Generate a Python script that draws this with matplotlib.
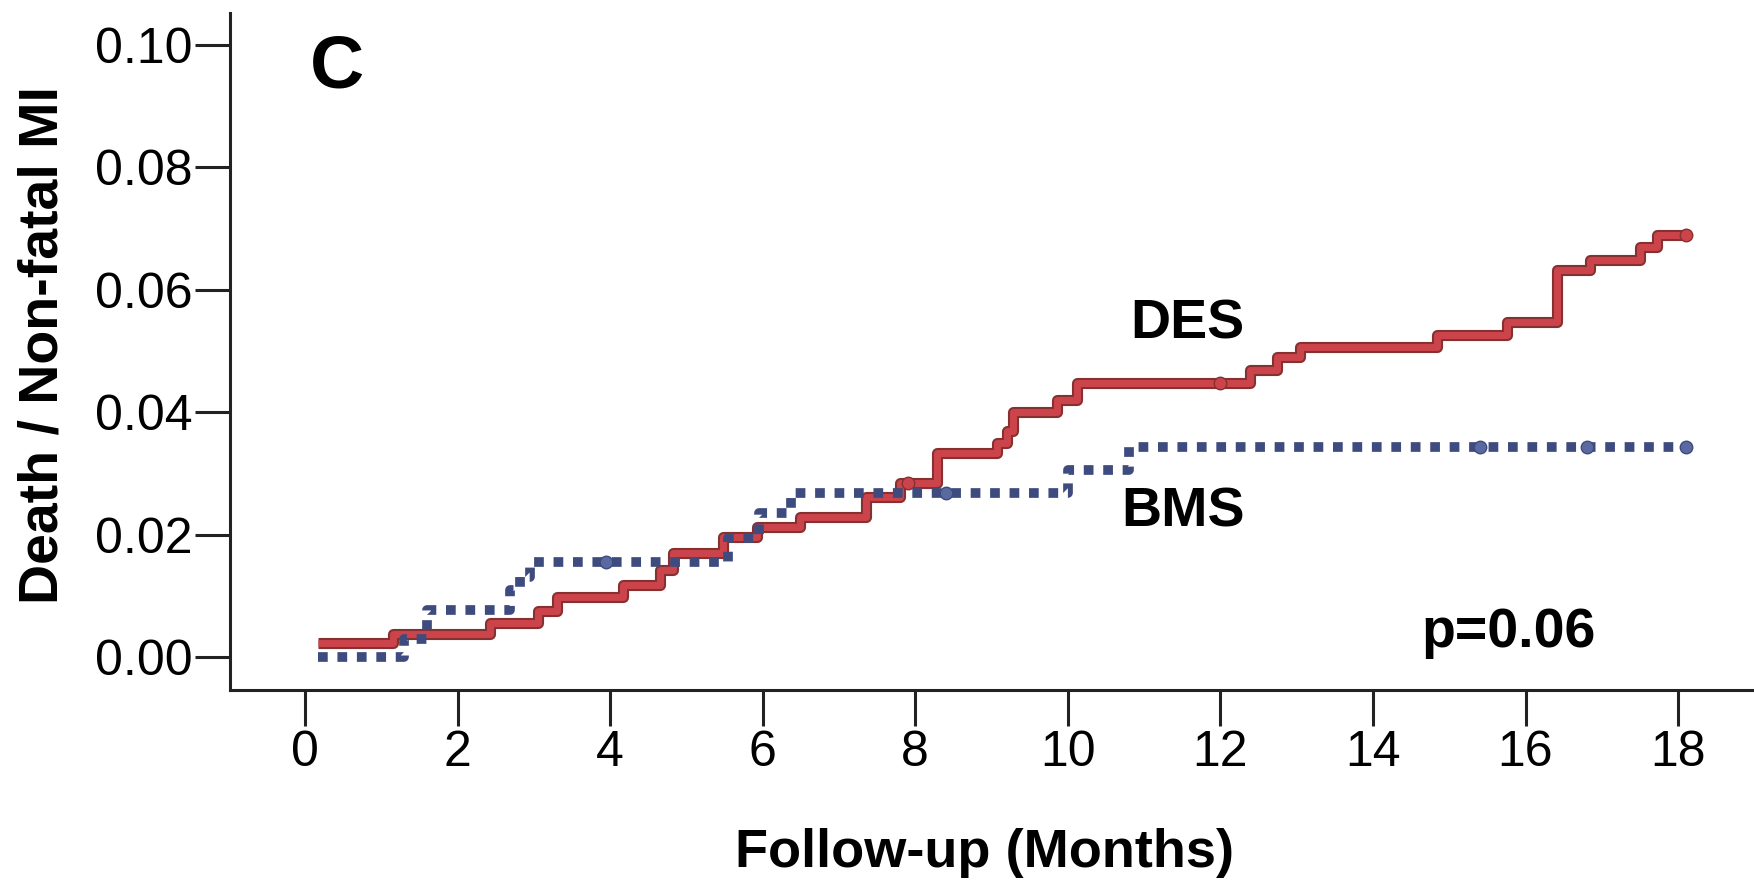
import numpy as np
import matplotlib
matplotlib.use('Agg')
import matplotlib.pyplot as plt
import matplotlib.patheffects as pe

# Kaplan-Meier style cumulative event curves
des_t = [0.17, 1.15, 2.43, 3.05, 3.30, 4.17, 4.65, 4.83, 5.48, 5.92, 6.49,
         7.36, 7.80, 8.28, 9.07, 9.20, 9.28, 9.86, 10.12, 12.39, 12.74,
         13.04, 14.84, 15.76, 16.41, 16.85, 17.50, 17.72, 18.10]
des_v = [0.0023, 0.0038, 0.0055, 0.0075, 0.0098, 0.0118, 0.0142, 0.0170,
         0.0196, 0.0213, 0.0229, 0.0262, 0.0284, 0.0333, 0.0350, 0.0370,
         0.0400, 0.0420, 0.0447, 0.0469, 0.0490, 0.0507, 0.0526, 0.0547,
         0.0632, 0.0649, 0.0670, 0.0690, 0.0690]

bms_t = [0.17, 1.30, 1.60, 2.69, 2.82, 2.95, 5.55, 5.95, 6.37, 10.00,
         10.80, 18.15]
bms_v = [0.0, 0.0030, 0.0077, 0.0110, 0.0130, 0.0155, 0.0195, 0.0235,
         0.0268, 0.0306, 0.0343, 0.0343]

# censor marks
des_cens_t = [7.9, 12.0, 18.1]
des_cens_v = [0.0284, 0.0447, 0.0690]
bms_cens_t = [3.95, 8.4, 15.4, 16.8, 18.1]
bms_cens_v = [0.0155, 0.0268, 0.0343, 0.0343, 0.0343]

xticks = np.arange(0, 19, 2)
yticks = [0.00, 0.02, 0.04, 0.06, 0.08, 0.10]

plt.rcParams['font.family'] = ['Liberation Sans', 'DejaVu Sans']

# ============= PLOTTING ==============
fig = plt.figure(figsize=(17.54, 8.8), dpi=100)
ax = fig.add_axes([0.1311, 0.2159, 0.8689, 0.7693])

red = '#cc444b'
blue = '#3e4b7e'

# DES: solid red with darker edge
ax.step(des_t, des_v, where='post', color=red, lw=5, solid_capstyle='butt',
        path_effects=[pe.Stroke(linewidth=8, foreground='#86302f'), pe.Normal()],
        zorder=3)
ax.plot(des_cens_t, des_cens_v, 'o', color=red, ms=9, mec='#86302f', zorder=4)

# BMS: square-dotted blue
ax.step(bms_t, bms_v, where='post', color=blue, lw=7, dashes=(1, 1.0),
        dash_capstyle='butt', zorder=5)
ax.plot(bms_cens_t, bms_cens_v, 'o', color='#5a6aa0', ms=9, mec=blue,
        zorder=6)
# ----------------------------\

ax.set_xlim(-0.983, 18.995)
ax.set_ylim(-0.00539, 0.10523)
ax.set_xticks(xticks)
ax.set_yticks(yticks)
ax.set_yticklabels(['%.2f' % v for v in yticks])

for side in ['top', 'right']:
    ax.spines[side].set_visible(False)
for side in ['left', 'bottom']:
    ax.spines[side].set_linewidth(2.2)
    ax.spines[side].set_color('#222222')

ax.tick_params(axis='x', direction='out', length=26, width=2.2, pad=3,
               labelsize=36, color='#222222')
ax.tick_params(axis='y', direction='out', length=25, width=2.2, pad=2,
               labelsize=36, color='#222222')

ax.set_xlabel('Follow-up (Months)', fontsize=39, fontweight='bold',
              va='baseline')
ax.xaxis.set_label_coords(0.4954, -0.2614)
ax.set_ylabel('Death / Non-fatal MI', fontsize=40, fontweight='bold',
              va='baseline')
ax.yaxis.set_label_coords(-0.1129, 0.5089)

# annotations
ax.text(0.42, 0.0930, 'C', fontsize=54, fontweight='bold', ha='center',
        va='baseline')
ax.text(10.82, 0.0521, 'DES', fontsize=40, fontweight='bold', va='baseline')
ax.text(10.70, 0.0214, 'BMS', fontsize=40, fontweight='bold', va='baseline')
ax.text(14.64, 0.0016, 'p=0.06', fontsize=40, fontweight='bold',
        va='baseline')

plt.savefig('out.png', dpi=100)
plt.close()
